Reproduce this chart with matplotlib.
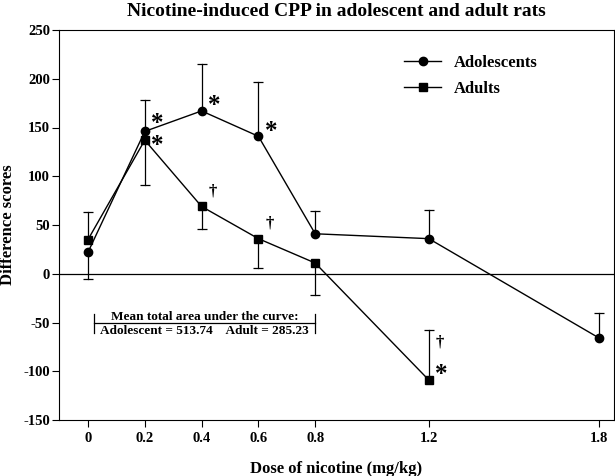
import matplotlib

matplotlib.use("Agg")
import matplotlib.pyplot as plt

# data
doses = [0, 0.2, 0.4, 0.6, 0.8, 1.2, 1.8]
adol_mean = [22, 146, 167, 141, 41, 36, -66]
adol_sem = [27, 32, 48, 56, 23, 29, 26]
adol_dir = [-1, 1, 1, 1, 1, 1, 1]  # which side the error bar is drawn on

adult_doses = [0, 0.2, 0.4, 0.6, 0.8, 1.2]
adult_mean = [35, 137, 69, 36, 11, -109]
adult_sem = [28, 46, 23, 30, 33, 51]
adult_dir = [1, -1, -1, -1, -1, 1]

stars = [(0.2, 160), (0.4, 179), (0.6, 152), (0.2, 138), (1.2, -97)]
daggers = [(0.4, 84), (0.6, 52), (1.2, -71)]

xticks = [0, 0.2, 0.4, 0.6, 0.8, 1.2, 1.8]
yticks = [-150, -100, -50, 0, 50, 100, 150, 200, 250]

plt.rcParams["font.family"] = ["Liberation Serif", "DejaVu Serif"]
plt.rcParams["font.weight"] = "bold"
plt.rcParams["axes.unicode_minus"] = False

fig = plt.figure(figsize=(6.15, 4.76), dpi=100)
ax = fig.add_axes([59 / 615, 56 / 476, 555 / 615, 390 / 476])


def one_sided(xs, ms, ss, ds):
    # single-sided SEM bars with a cap only at the far end
    for x, m, s, d in zip(xs, ms, ss, ds):
        end = m + d * s
        ax.plot([x, x], [m, end], color="black", lw=0.9, zorder=2)
        ax.plot([x], [end], marker="_", ms=7, mew=0.9, color="black", zorder=2)


ax.axhline(0, color="black", lw=0.9, zorder=1)
one_sided(doses, adol_mean, adol_sem, adol_dir)
one_sided(adult_doses, adult_mean, adult_sem, adult_dir)
ax.plot(doses, adol_mean, "-o", color="black", ms=6, lw=1,
        label="Adolescents", zorder=3)
ax.plot(adult_doses, adult_mean, "-s", color="black", ms=6, lw=1,
        label="Adults", zorder=3)

for x, y in stars:
    ax.text(x + 0.045, y - 6, "*", fontsize=18, ha="center", va="center")
for x, y in daggers:
    ax.text(x + 0.04, y, "†", fontsize=12, ha="center", va="center")

# bracket with area-under-curve note
ax.plot([0.02, 0.8], [-51, -51], color="black", lw=0.9)
for xe in (0.02, 0.8):
    ax.plot([xe, xe], [-41, -61], color="black", lw=0.9)
ax.text(0.41, -50, "Mean total area under the curve:", ha="center",
        va="bottom", fontsize=9.5, fontweight="bold")
ax.text(0.41, -53, "Adolescent = 513.74    Adult = 285.23", ha="center",
        va="top", fontsize=9.5, fontweight="bold")

ax.set_xlim(-0.102, 1.852)
ax.set_ylim(-150, 250)
ax.set_xticks(xticks)
ax.set_xticklabels([f"{t:g}" for t in xticks])
ax.set_yticks(yticks)
ax.tick_params(direction="out", length=5, labelsize=10.5, top=False, right=False)
ax.tick_params(axis="y", pad=1.5)
for lbl in ax.get_xticklabels() + ax.get_yticklabels():
    lbl.set_fontweight("bold")

ax.set_xlabel("Dose of nicotine (mg/kg)", fontsize=12, fontweight="bold",
              labelpad=12)
ax.set_ylabel("Difference scores", fontsize=12, fontweight="bold",
              labelpad=5)
ax.set_title("Nicotine-induced CPP in adolescent and adult rats",
             fontsize=14, fontweight="bold", pad=10)

ax.legend(loc="upper left", bbox_to_anchor=(0.595, 0.975), frameon=False,
          handlelength=2.2, labelspacing=0.6, handletextpad=0.8,
          prop={"weight": "bold", "size": 12})

fig.savefig("out.png", dpi=100)
